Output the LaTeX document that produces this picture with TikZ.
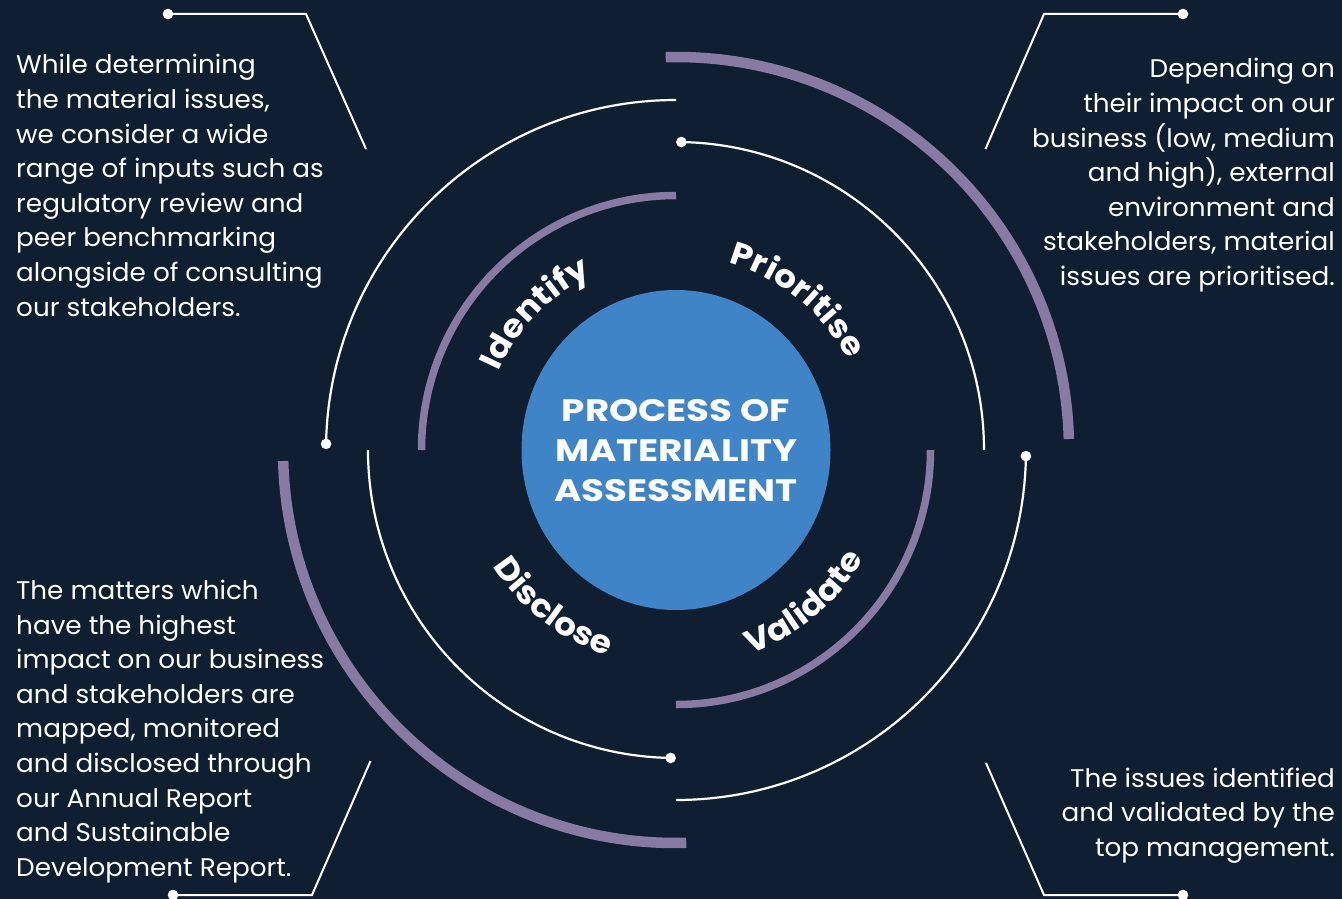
\documentclass[tikz,border=0pt]{standalone}
\usepackage{fontspec}
\setmainfont{Poppins}[FakeStretch=1.03]
\newfontfamily\corefont{Poppins}[FakeStretch=1.2]
\newfontfamily\stepfont{Poppins}[FakeStretch=1.08]
\usetikzlibrary{decorations.text,shapes.geometric}
\definecolor{bg}{RGB}{15,31,49}
\definecolor{lav}{RGB}{136,122,162}
\definecolor{cblue}{RGB}{62,132,198}
\begin{document}
\begin{tikzpicture}[x=1pt,y=1pt,
  body/.style={text=white, inner sep=0pt, font=\fontsize{25.5}{34.6}\selectfont},
  thinring/.style={draw=white, line width=2.2pt},
  midring/.style={draw=lav, line width=7.5pt},
  bigring/.style={draw=lav, line width=10.5pt},
  callout/.style={draw=white, line width=2pt, line join=miter},
  dotmark/.style={fill=white},
  steplabel/.style={decorate, decoration={text along path, text align=center, text color=white, text={|\stepfont\fontsize{32}{32}\bfseries\selectfont|#1}}}
]
\useasboundingbox (0,0) rectangle (1342,-899);
\fill[bg] (0,0) rectangle (1342,-899);
\coordinate (c) at (676,-450);

% outer purple rings
\draw[bigring] ([shift={(91.5:393)}]c) arc[start angle=91.5, end angle=1.6, radius=393];
\draw[bigring] ([shift={(181.6:393)}]c) arc[start angle=181.6, end angle=271.5, radius=393];
% outer white rings
\draw[thinring] ([shift={(90:350)}]c) arc[start angle=90, end angle=179, radius=350];
\fill[dotmark] ([shift={(179:350)}]c) circle (5.3);
\draw[thinring] ([shift={(-1:350)}]c) arc[start angle=-1, end angle=-90, radius=350];
\fill[dotmark] ([shift={(-1:350)}]c) circle (5.3);
% inner white rings
\draw[thinring] ([shift={(89:308)}]c) arc[start angle=89, end angle=0, radius=308];
\fill[dotmark] ([shift={(89:308)}]c) circle (5.3);
\draw[thinring] ([shift={(180:308)}]c) arc[start angle=180, end angle=269, radius=308];
\fill[dotmark] ([shift={(269:308)}]c) circle (5.3);
% inner purple rings
\draw[midring] ([shift={(90:254.5)}]c) arc[start angle=90, end angle=180, radius=254.5];
\draw[midring] ([shift={(0:254.5)}]c) arc[start angle=0, end angle=-90, radius=254.5];

% centre
\node[ellipse, fill=cblue, minimum width=309pt, minimum height=320pt, inner sep=0pt] (core) at (c) {};
\node[text=white, align=center, inner sep=0pt, font=\corefont\fontsize{31}{40}\bfseries\selectfont] (coretext) at (676,-451) {PROCESS OF\\MATERIALITY\\ASSESSMENT};

% step labels
\path[steplabel=Identify] ([shift={(181:194)}]c) arc[start angle=181, end angle=91, radius=194];
\path[steplabel=Prioritise] ([shift={(96:194)}]c) arc[start angle=96, end angle=6, radius=194];
\path[steplabel=Disclose] ([shift={(187:217)}]c) arc[start angle=187, end angle=277, radius=217];
\path[steplabel=Validate] ([shift={(265:217)}]c) arc[start angle=265, end angle=355, radius=217];

% callouts
\coordinate (tla) at (168,-14); \coordinate (tlb) at (306,-14); \coordinate (tlc) at (366,-149);
\coordinate (tra) at (1183,-14); \coordinate (trb) at (1044,-14); \coordinate (trc) at (985.5,-149);
\coordinate (bla) at (173,-895); \coordinate (blb) at (312,-895); \coordinate (blc) at (370.5,-761);
\coordinate (bra) at (1183,-895); \coordinate (brb) at (1044,-895); \coordinate (brc) at (986,-763);
\draw[callout] (tla) -- (tlb) -- (tlc); \fill[dotmark] (tla) circle (5.3);
\draw[callout] (tra) -- (trb) -- (trc); \fill[dotmark] (tra) circle (5.3);
\draw[callout] (bla) -- (blb) -- (blc); \fill[dotmark] (bla) circle (5.3);
\draw[callout] (bra) -- (brb) -- (brc); \fill[dotmark] (bra) circle (5.3);

% texts
\node[body, anchor=north west, align=left] (identifytext) at (16,-54.2) {While determining\\the material issues,\\we consider a wide\\range of inputs such as\\regulatory review and\\peer benchmarking\\alongside of consulting\\our stakeholders.};
\node[body, anchor=north east, align=right] (prioritisetext) at (1335,-58.2) {Depending on\\their impact on our\\business (low, medium\\and high), external\\environment and\\stakeholders, material\\issues are prioritised.};
\node[body, anchor=north west, align=left] (disclosetext) at (16,-579.8) {The matters which\\have the highest\\impact on our business\\and stakeholders are\\mapped, monitored\\and disclosed through\\our Annual Report\\and Sustainable\\Development Report.};
\node[body, anchor=north east, align=right] (validatetext) at (1335,-767.5) {The issues identified\\and validated by the\\top management.};
\end{tikzpicture}
\end{document}
